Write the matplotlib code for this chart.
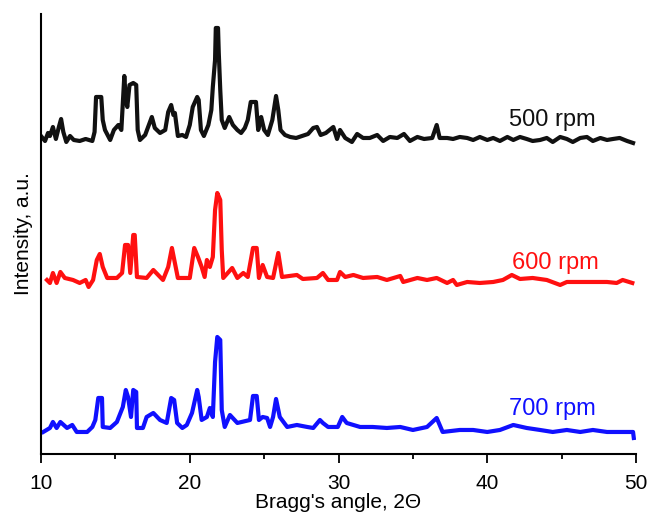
import numpy as np
import matplotlib
matplotlib.use("Agg")
from matplotlib import pyplot as plt
from matplotlib.ticker import MultipleLocator

plt.rcParams['font.family'] = ['Liberation Sans', 'DejaVu Sans']

# stacked XRD patterns (2theta [deg], intensity [a.u.], already offset)
x_500 = [10.05, 10.27, 10.47, 10.6, 10.8, 11.0, 11.2, 11.35, 11.5, 11.7, 11.95, 12.2, 12.6, 13.0,
         13.45, 13.6, 13.7, 14.05, 14.15, 14.3, 14.65, 14.9, 15.2, 15.4, 15.6, 15.7, 15.8, 15.95,
         16.2, 16.4, 16.5, 16.65, 17.0, 17.25, 17.45, 17.65, 18.0, 18.35, 18.55, 18.75, 18.9, 19.0,
         19.2, 19.5, 19.75, 20.0, 20.2, 20.5, 20.6, 20.75, 20.95, 21.25, 21.45, 21.55, 21.7, 21.75,
         21.9, 21.95, 22.05, 22.15, 22.35, 22.65, 22.9, 23.2, 23.45, 23.7, 23.9, 24.1, 24.45, 24.6,
         24.8, 25.0, 25.25, 25.55, 25.8, 25.95, 26.1, 26.4, 26.75, 27.15, 27.55, 27.95, 28.3, 28.55,
         28.8, 29.15, 29.65, 29.9, 30.1, 30.45, 30.9, 31.25, 31.65, 32.1, 32.6, 33.0, 33.45, 33.95,
         34.4, 34.8, 35.3, 35.75, 36.3, 36.6, 36.8, 37.3, 37.7, 38.15, 38.65, 39.05, 39.5, 40.0,
         40.4, 40.85, 41.35, 41.75, 42.2, 42.65, 43.05, 43.55, 44.0, 44.4, 44.9, 45.35, 45.75,
         46.25, 46.7, 47.1, 47.6, 48.05, 48.45, 48.9, 49.4, 49.8]
y_500 = [317, 313, 321, 318, 327, 315, 327, 335, 322, 312, 318, 314, 313, 315,
         313, 322, 357, 357, 334, 324, 314, 324, 329, 324, 378, 354, 347, 369,
         371, 369, 324, 314, 319, 329, 337, 326, 321, 324, 342, 349, 339, 341,
         318, 319, 317, 329, 347, 357, 354, 324, 318, 329, 344, 367, 394, 426,
         426, 401, 364, 334, 326, 337, 329, 324, 321, 326, 334, 352, 352, 324,
         337, 324, 319, 334, 358, 344, 324, 319, 317, 316, 318, 320, 326, 327,
         319, 321, 327, 315, 324, 316, 312, 320, 316, 316, 319, 313, 317, 316,
         320, 313, 317, 315, 316, 329, 316, 316, 315, 317, 316, 314, 317, 314,
         316, 313, 317, 314, 317, 315, 313, 314, 316, 312, 317, 315, 312,
         316, 317, 313, 316, 314, 315, 316, 313, 311]

x_600 = [10.4, 10.6, 10.8, 11.05, 11.3, 11.6, 12.15, 12.6, 13.0, 13.2, 13.5, 13.75, 13.95, 14.15,
         14.45, 15.1, 15.45, 15.65, 15.85, 16.0, 16.2, 16.3, 16.45, 17.1, 17.55, 18.2, 18.55, 18.8,
         19.0, 19.2, 20.0, 20.3, 20.55, 20.8, 21.0, 21.15, 21.35, 21.55, 21.7, 21.85, 22.05, 22.15,
         22.25, 22.85, 23.2, 23.6, 23.9, 24.25, 24.5, 24.65, 24.9, 25.2, 25.6, 25.95, 26.2, 27.2,
         27.6, 28.55, 28.95, 29.3, 29.9, 30.1, 30.45, 31.0, 31.65, 32.6, 33.25, 34.15, 34.35, 35.3,
         35.95, 36.6, 37.3, 37.7, 37.95, 38.65, 39.5, 40.4, 41.05, 41.65, 42.2, 43.05, 44.0, 44.9,
         45.35, 46.25, 47.1, 48.05, 48.7, 49.1, 49.75]
y_600 = [174, 171, 181, 171, 182, 176, 174, 171, 174, 167, 174, 194, 200, 187,
         176, 176, 181, 209, 209, 181, 219, 219, 177, 176, 184, 174, 187, 206,
         191, 176, 176, 206, 197, 187, 177, 194, 187, 197, 244, 261, 254, 204,
         176, 186, 176, 181, 177, 206, 206, 176, 189, 177, 176, 201, 177, 179,
         175, 176, 181, 174, 174, 182, 177, 179, 176, 177, 174, 178, 172, 176,
         174, 176, 171, 174, 169, 172, 171, 172, 174, 179, 175, 176, 174, 169,
         172, 172, 172, 172, 171, 174, 171]

x_700 = [10.15, 10.6, 10.8, 11.05, 11.3, 11.75, 12.1, 12.4, 13.1, 13.45, 13.65, 13.85, 14.1, 14.15,
         14.65, 15.1, 15.5, 15.7, 15.85, 16.05, 16.2, 16.4, 16.45, 16.85, 17.1, 17.55, 18.0, 18.45,
         18.75, 18.95, 19.15, 19.5, 19.8, 20.15, 20.5, 20.6, 20.8, 21.15, 21.35, 21.55, 21.7, 21.85,
         22.05, 22.15, 22.35, 22.7, 23.2, 24.05, 24.25, 24.5, 24.65, 24.9, 25.2, 25.4, 25.6, 25.8,
         26.05, 26.55, 27.2, 27.9, 28.3, 28.75, 28.95, 29.3, 29.95, 30.25, 30.55, 31.45, 32.3, 33.25,
         34.15, 35.0, 35.95, 36.6, 37.0, 38.15, 39.05, 40.0, 40.85, 41.75, 42.65, 43.55, 44.4, 45.35,
         46.25, 47.1, 48.05, 48.9, 49.8, 49.85]
y_700 = [22, 26, 32, 26, 32, 26, 29, 22, 22, 27, 34, 56, 56, 27,
         26, 32, 47, 64, 57, 37, 64, 62, 26, 26, 37, 41, 34, 31,
         56, 54, 31, 26, 29, 41, 64, 57, 34, 37, 46, 37, 92, 117,
         114, 44, 27, 39, 31, 34, 58, 58, 34, 37, 36, 27, 37, 55,
         37, 27, 29, 27, 26, 34, 31, 27, 27, 37, 31, 27, 27, 26,
         27, 24, 27, 36, 22, 24, 24, 22, 24, 29, 26, 24, 22, 24,
         22, 24, 22, 22, 22, 16]

labels = ['500 rpm', '600 rpm', '700 rpm']
colors = ['#111111', '#ff1010', '#1010ff']
label_pos = [(44.4, 334), (44.55, 191), (44.4, 45)]

fig = plt.figure(figsize=(6.5, 5.16), dpi=100)
ax = fig.add_axes([0.0631, 0.1202, 0.9154, 0.8527])

for xs, ys, c in zip([x_500, x_600, x_700], [y_500, y_600, y_700], colors):
    ax.plot(xs, ys, color=c, lw=3.0, solid_joinstyle='round')

for lab, c, (tx, ty) in zip(labels, colors, label_pos):
    ax.text(tx, ty, lab, color=c, fontsize=17, ha='center', va='center')

ax.set_xlim(10, 50)
ax.set_ylim(0, 440)
ax.xaxis.set_major_locator(MultipleLocator(10))
ax.xaxis.set_minor_locator(MultipleLocator(5))
ax.set_yticks([])
for s in ['top', 'right']:
    ax.spines[s].set_visible(False)
for s in ['left', 'bottom']:
    ax.spines[s].set_linewidth(1.5)
ax.tick_params(axis='x', which='major', direction='out', length=6.5, width=1.3, labelsize=15, pad=8)
ax.tick_params(axis='x', which='minor', direction='out', length=3.5, width=1.3)
ax.set_xlabel("Bragg's angle, 2\u0398", fontsize=15, labelpad=0)
ax.set_ylabel('Intensity, a.u.', fontsize=15, labelpad=6)

fig.savefig('out.png', dpi=100)
